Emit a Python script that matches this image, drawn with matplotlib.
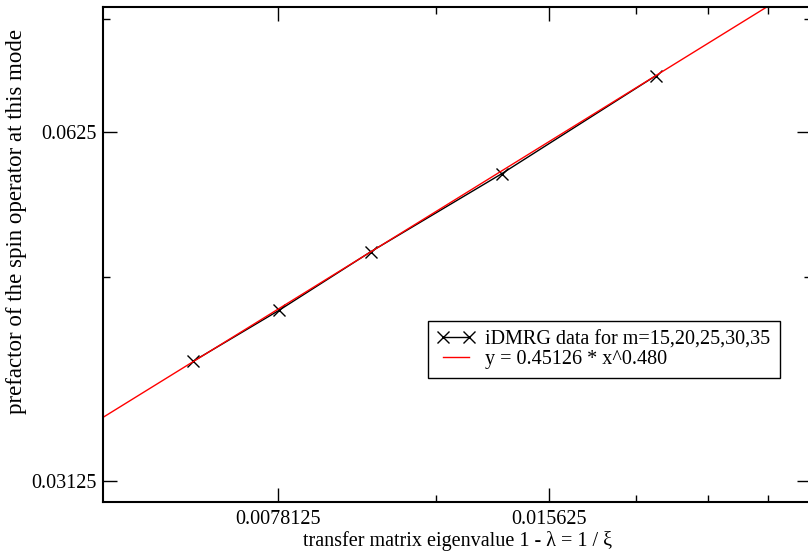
import matplotlib
matplotlib.use("Agg")
import matplotlib.pyplot as plt
from matplotlib.ticker import FixedLocator, NullFormatter, FixedFormatter

# data
data_x = [0.006293, 0.007842, 0.009906, 0.013841, 0.020505]
data_y = [0.03965, 0.04388, 0.04927, 0.05751, 0.06983]
fit_x = [0.005, 0.031]
fit_y = [0.03548, 0.08517]

x_major = [0.0078125, 0.015625]
x_major_labels = ["0.0078125", "0.015625"]
x_minor = [0.01171875, 0.01953125, 0.0234375, 0.02734375]
y_major = [0.03125, 0.0625]
y_major_labels = ["0.03125", "0.0625"]
y_minor = [0.046875, 0.078125]

plt.rcParams['font.family'] = ['Liberation Serif', 'DejaVu Serif']

FS = 14.5
W, H = 808, 551
fig = plt.figure(figsize=(W / 100, H / 100), dpi=100)
L, R, T, B = 103, 811, 7.3, 502
ax = fig.add_axes([L / W, (H - B) / H, (R - L) / W, (B - T) / H])

ax.set_xscale('log')
ax.set_yscale('log')
ax.set_xlim(0.005, 0.0305)
ax.set_ylim(0.030, 0.080)

ax.plot(data_x, data_y, color='black', lw=1.0, marker='x', ms=8, mew=1.0,
        label='iDMRG data for m=15,20,25,30,35')
ax.plot(fit_x, fit_y, color='red', lw=1.0, label='y = 0.45126 * x^0.480')

ax.xaxis.set_major_locator(FixedLocator(x_major))
ax.xaxis.set_major_formatter(FixedFormatter(x_major_labels))
ax.xaxis.set_minor_locator(FixedLocator(x_minor))
ax.xaxis.set_minor_formatter(NullFormatter())
ax.yaxis.set_major_locator(FixedLocator(y_major))
ax.yaxis.set_major_formatter(FixedFormatter(y_major_labels))
ax.yaxis.set_minor_locator(FixedLocator(y_minor))
ax.yaxis.set_minor_formatter(NullFormatter())

ax.tick_params(which='both', direction='in', top=True, right=True, labelsize=FS)
ax.tick_params(which='major', length=10, width=1.0)
ax.tick_params(which='minor', length=5, width=1.0)
ax.tick_params(axis='x', which='major', pad=6)
ax.tick_params(axis='y', which='major', pad=4.5)
for s in ax.spines.values():
    s.set_linewidth(1.5)

fig.text(458 / W, 1 - 541 / H, 'transfer matrix eigenvalue 1 - λ = 1 / ξ',
         ha='center', va='center', fontsize=FS)
fig.text(17 / W, 1 - 222 / H, 'prefactor of the spin operator at this mode',
         ha='center', va='center', rotation=90, fontsize=16.5)

leg = ax.legend(loc='upper left', bbox_to_anchor=(428 / W, 1 - 321 / H),
                bbox_transform=fig.transFigure, fontsize=FS, frameon=True,
                fancybox=False, edgecolor='black', framealpha=1,
                numpoints=2, handlelength=1.9, handletextpad=0.5,
                borderpad=0.45, labelspacing=0.05, borderaxespad=0)
leg.get_frame().set_linewidth(1.0)

fig.savefig('out.png', dpi=100)
